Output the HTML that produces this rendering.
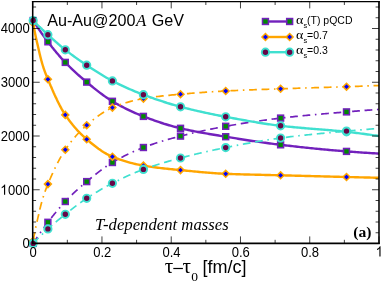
<!DOCTYPE html>
<html><head><meta charset="utf-8"><title>plot</title>
<style>
html,body{margin:0;padding:0;background:#fff;}
body{width:382px;height:282px;overflow:hidden;font-family:"Liberation Sans",sans-serif;}
svg{display:block;}
text{font-family:"Liberation Sans",sans-serif;fill:#000;}
.ser{font-family:"Liberation Serif",serif;}
</style></head><body>
<div style="will-change:transform;width:382px;height:282px;">
<svg width="382" height="282" viewBox="0 0 382 282">

<defs><clipPath id="c"><rect x="32.7" y="1.6" width="346.3" height="241.6"/></clipPath></defs>
<path d="M33.15,20.55 L33.38,20.90 L33.60,21.25 L33.83,21.60 L34.05,21.95 L34.28,22.30 L34.50,22.65 L34.73,22.99 L34.96,23.34 L35.18,23.69 L35.41,24.03 L35.63,24.38 L35.86,24.72 L36.08,25.06 L36.31,25.40 L36.53,25.74 L36.76,26.09 L36.99,26.42 L37.21,26.76 L37.44,27.10 L37.66,27.44 L37.89,27.78 L38.11,28.11 L38.34,28.45 L38.57,28.78 L38.79,29.11 L39.02,29.45 L39.24,29.78 L39.47,30.11 L39.69,30.44 L39.92,30.77 L40.14,31.09 L40.37,31.42 L40.60,31.75 L40.82,32.07 L41.05,32.40 L41.27,32.72 L41.50,33.04 L41.72,33.37 L41.95,33.69 L42.18,34.01 L42.40,34.33 L42.63,34.64 L42.85,34.96 L43.08,35.28 L43.30,35.59 L43.53,35.91 L43.75,36.22 L43.98,36.53 L44.21,36.84 L44.43,37.16 L44.66,37.46 L44.88,37.77 L45.11,38.08 L45.33,38.39 L45.56,38.69 L45.79,39.00 L46.01,39.30 L46.24,39.60 L46.46,39.90 L46.69,40.20 L46.91,40.50 L47.14,40.80 L47.36,41.10 L47.59,41.40 L47.82,41.69 L48.04,41.98 L48.27,42.28 L48.49,42.57 L48.72,42.86 L48.94,43.15 L49.17,43.45 L49.40,43.74 L49.62,44.03 L49.85,44.32 L50.07,44.60 L50.30,44.89 L50.52,45.18 L50.75,45.47 L50.97,45.75 L51.20,46.04 L51.43,46.32 L51.65,46.61 L51.88,46.89 L52.10,47.18 L52.33,47.46 L52.55,47.74 L52.78,48.02 L53.01,48.30 L53.23,48.58 L53.46,48.86 L53.68,49.14 L53.91,49.42 L54.13,49.69 L54.36,49.97 L54.58,50.24 L54.81,50.52 L55.04,50.79 L55.26,51.07 L55.49,51.34 L55.71,51.61 L55.94,51.88 L56.16,52.15 L56.39,52.42 L56.62,52.69 L56.84,52.96 L57.07,53.23 L57.29,53.49 L57.52,53.76 L57.74,54.02 L57.97,54.29 L58.19,54.55 L58.42,54.81 L58.65,55.07 L58.87,55.34 L59.10,55.60 L59.32,55.85 L59.55,56.11 L59.77,56.37 L60.00,56.63 L61.60,58.43 L63.21,60.18 L64.81,61.89 L66.41,63.55 L68.02,65.18 L69.62,66.77 L71.22,68.33 L72.82,69.86 L74.43,71.37 L76.03,72.85 L77.63,74.30 L79.24,75.73 L80.84,77.13 L82.44,78.52 L84.05,79.88 L85.65,81.23 L87.25,82.56 L88.85,83.88 L90.46,85.20 L92.06,86.51 L93.66,87.81 L95.27,89.10 L96.87,90.37 L98.47,91.62 L100.08,92.85 L101.68,94.06 L103.28,95.24 L104.88,96.39 L106.49,97.50 L108.09,98.59 L109.69,99.63 L111.30,100.63 L112.90,101.60 L114.50,102.53 L116.11,103.45 L117.71,104.35 L119.31,105.23 L120.91,106.09 L122.52,106.93 L124.12,107.76 L125.72,108.57 L127.33,109.36 L128.93,110.14 L130.53,110.90 L132.14,111.64 L133.74,112.36 L135.34,113.07 L136.94,113.77 L138.55,114.44 L140.15,115.10 L141.75,115.75 L143.36,116.38 L144.96,117.00 L146.56,117.62 L148.17,118.22 L149.77,118.82 L151.37,119.41 L152.97,119.98 L154.58,120.55 L156.18,121.12 L157.78,121.67 L159.39,122.21 L160.99,122.74 L162.59,123.26 L164.20,123.77 L165.80,124.27 L167.40,124.76 L169.01,125.24 L170.61,125.70 L172.21,126.16 L173.81,126.60 L175.42,127.03 L177.02,127.44 L178.62,127.85 L180.23,128.23 L181.83,128.61 L183.43,128.98 L185.04,129.34 L186.64,129.69 L188.24,130.04 L189.84,130.37 L191.45,130.70 L193.05,131.02 L194.65,131.34 L196.26,131.65 L197.86,131.95 L199.46,132.25 L201.07,132.54 L202.67,132.83 L204.27,133.12 L205.87,133.40 L207.48,133.67 L209.08,133.95 L210.68,134.22 L212.29,134.49 L213.89,134.76 L215.49,135.02 L217.10,135.29 L218.70,135.55 L220.30,135.81 L221.90,136.08 L223.51,136.34 L225.11,136.60 L226.71,136.87 L228.32,137.13 L229.92,137.39 L231.52,137.66 L233.13,137.92 L234.73,138.18 L236.33,138.44 L237.93,138.69 L239.54,138.95 L241.14,139.20 L242.74,139.46 L244.35,139.71 L245.95,139.96 L247.55,140.21 L249.16,140.45 L250.76,140.70 L252.36,140.94 L253.96,141.18 L255.57,141.42 L257.17,141.66 L258.77,141.89 L260.38,142.12 L261.98,142.35 L263.58,142.58 L265.19,142.80 L266.79,143.02 L268.39,143.24 L269.99,143.45 L271.60,143.67 L273.20,143.88 L274.80,144.08 L276.41,144.29 L278.01,144.48 L279.61,144.68 L281.22,144.87 L282.82,145.06 L284.42,145.25 L286.03,145.44 L287.63,145.63 L289.23,145.81 L290.83,146.00 L292.44,146.18 L294.04,146.36 L295.64,146.54 L297.25,146.72 L298.85,146.89 L300.45,147.07 L302.06,147.24 L303.66,147.41 L305.26,147.58 L306.86,147.75 L308.47,147.92 L310.07,148.08 L311.67,148.25 L313.28,148.41 L314.88,148.57 L316.48,148.73 L318.09,148.89 L319.69,149.04 L321.29,149.20 L322.89,149.35 L324.50,149.50 L326.10,149.65 L327.70,149.80 L329.31,149.94 L330.91,150.09 L332.51,150.23 L334.12,150.37 L335.72,150.51 L337.32,150.65 L338.92,150.78 L340.53,150.92 L342.13,151.05 L343.73,151.18 L345.34,151.31 L346.94,151.43 L348.54,151.56 L350.15,151.68 L351.75,151.80 L353.35,151.92 L354.95,152.04 L356.56,152.16 L358.16,152.27 L359.76,152.38 L361.37,152.50 L362.97,152.60 L364.57,152.71 L366.18,152.82 L367.78,152.92 L369.38,153.02 L370.98,153.12 L372.59,153.22 L374.19,153.32 L375.79,153.41 L377.40,153.51 L379.00,153.60" fill="none" stroke="#7221bc" stroke-width="2.4" clip-path="url(#c)"/>
<rect x="30.22" y="17.62" width="5.85" height="5.85" fill="#008b00" stroke="#7221bc" stroke-width="1.55"/>
<rect x="44.97" y="38.87" width="5.85" height="5.85" fill="#008b00" stroke="#7221bc" stroke-width="1.55"/>
<rect x="62.37" y="59.47" width="5.85" height="5.85" fill="#008b00" stroke="#7221bc" stroke-width="1.55"/>
<rect x="83.78" y="79.17" width="5.85" height="5.85" fill="#008b00" stroke="#7221bc" stroke-width="1.55"/>
<rect x="109.48" y="98.38" width="5.85" height="5.85" fill="#008b00" stroke="#7221bc" stroke-width="1.55"/>
<rect x="140.48" y="113.47" width="5.85" height="5.85" fill="#008b00" stroke="#7221bc" stroke-width="1.55"/>
<rect x="177.58" y="125.38" width="5.85" height="5.85" fill="#008b00" stroke="#7221bc" stroke-width="1.55"/>
<rect x="222.78" y="133.78" width="5.85" height="5.85" fill="#008b00" stroke="#7221bc" stroke-width="1.55"/>
<rect x="277.68" y="141.88" width="5.85" height="5.85" fill="#008b00" stroke="#7221bc" stroke-width="1.55"/>
<rect x="343.57" y="148.48" width="5.85" height="5.85" fill="#008b00" stroke="#7221bc" stroke-width="1.55"/>
<path d="M33.15,243.40 L33.38,243.05 L33.60,242.71 L33.83,242.36 L34.05,242.02 L34.28,241.67 L34.50,241.33 L34.73,240.99 L34.96,240.64 L35.18,240.30 L35.41,239.96 L35.63,239.62 L35.86,239.28 L36.08,238.94 L36.31,238.60 L36.53,238.27 L36.76,237.93 L36.99,237.59 L37.21,237.26 L37.44,236.92 L37.66,236.59 L37.89,236.26 L38.11,235.93 L38.34,235.59 L38.57,235.26 L38.79,234.93 L39.02,234.60 L39.24,234.27 L39.47,233.95 L39.69,233.62 L39.92,233.29 L40.14,232.97 L40.37,232.64 L40.60,232.32 L40.82,232.00 L41.05,231.67 L41.27,231.35 L41.50,231.03 L41.72,230.71 L41.95,230.39 L42.18,230.08 L42.40,229.76 L42.63,229.44 L42.85,229.13 L43.08,228.81 L43.30,228.50 L43.53,228.18 L43.75,227.87 L43.98,227.56 L44.21,227.25 L44.43,226.94 L44.66,226.63 L44.88,226.32 L45.11,226.02 L45.33,225.71 L45.56,225.41 L45.79,225.10 L46.01,224.80 L46.24,224.50 L46.46,224.20 L46.69,223.90 L46.91,223.60 L47.14,223.30 L47.36,223.00 L47.59,222.71 L47.82,222.41 L48.04,222.12 L48.27,221.82 L48.49,221.53 L48.72,221.23 L48.94,220.94 L49.17,220.65 L49.40,220.36 L49.62,220.07 L49.85,219.78 L50.07,219.49 L50.30,219.20 L50.52,218.91 L50.75,218.62 L50.97,218.33 L51.20,218.04 L51.43,217.76 L51.65,217.47 L51.88,217.18 L52.10,216.90 L52.33,216.61 L52.55,216.33 L52.78,216.05 L53.01,215.76 L53.23,215.48 L53.46,215.20 L53.68,214.92 L53.91,214.64 L54.13,214.36 L54.36,214.08 L54.58,213.80 L54.81,213.52 L55.04,213.25 L55.26,212.97 L55.49,212.69 L55.71,212.42 L55.94,212.14 L56.16,211.87 L56.39,211.60 L56.62,211.33 L56.84,211.06 L57.07,210.78 L57.29,210.52 L57.52,210.25 L57.74,209.98 L57.97,209.71 L58.19,209.44 L58.42,209.18 L58.65,208.91 L58.87,208.65 L59.10,208.39 L59.32,208.12 L59.55,207.86 L59.77,207.60 L60.00,207.34 L61.60,205.52 L63.21,203.74 L64.81,202.02 L66.41,200.34 L68.02,198.70 L69.62,197.08 L71.22,195.50 L72.82,193.95 L74.43,192.42 L76.03,190.93 L77.63,189.46 L79.24,188.02 L80.84,186.60 L82.44,185.20 L84.05,183.83 L85.65,182.48 L87.25,181.14 L88.85,179.82 L90.46,178.50 L92.06,177.19 L93.66,175.90 L95.27,174.62 L96.87,173.35 L98.47,172.11 L100.08,170.88 L101.68,169.69 L103.28,168.52 L104.88,167.38 L106.49,166.27 L108.09,165.19 L109.69,164.16 L111.30,163.16 L112.90,162.21 L114.50,161.27 L116.11,160.36 L117.71,159.46 L119.31,158.59 L120.91,157.73 L122.52,156.88 L124.12,156.06 L125.72,155.25 L127.33,154.46 L128.93,153.69 L130.53,152.93 L132.14,152.19 L133.74,151.47 L135.34,150.77 L136.94,150.08 L138.55,149.42 L140.15,148.77 L141.75,148.13 L143.36,147.52 L144.96,146.92 L146.56,146.33 L148.17,145.75 L149.77,145.19 L151.37,144.63 L152.97,144.09 L154.58,143.56 L156.18,143.03 L157.78,142.52 L159.39,142.02 L160.99,141.52 L162.59,141.04 L164.20,140.56 L165.80,140.09 L167.40,139.63 L169.01,139.17 L170.61,138.73 L172.21,138.29 L173.81,137.85 L175.42,137.42 L177.02,137.00 L178.62,136.58 L180.23,136.17 L181.83,135.76 L183.43,135.36 L185.04,134.96 L186.64,134.56 L188.24,134.17 L189.84,133.79 L191.45,133.40 L193.05,133.03 L194.65,132.65 L196.26,132.28 L197.86,131.92 L199.46,131.56 L201.07,131.21 L202.67,130.85 L204.27,130.51 L205.87,130.17 L207.48,129.83 L209.08,129.49 L210.68,129.17 L212.29,128.84 L213.89,128.52 L215.49,128.21 L217.10,127.89 L218.70,127.59 L220.30,127.29 L221.90,126.99 L223.51,126.69 L225.11,126.41 L226.71,126.12 L228.32,125.84 L229.92,125.56 L231.52,125.28 L233.13,125.00 L234.73,124.73 L236.33,124.46 L237.93,124.19 L239.54,123.93 L241.14,123.66 L242.74,123.40 L244.35,123.14 L245.95,122.89 L247.55,122.64 L249.16,122.39 L250.76,122.14 L252.36,121.90 L253.96,121.65 L255.57,121.42 L257.17,121.18 L258.77,120.95 L260.38,120.72 L261.98,120.49 L263.58,120.27 L265.19,120.05 L266.79,119.83 L268.39,119.62 L269.99,119.41 L271.60,119.20 L273.20,119.00 L274.80,118.80 L276.41,118.60 L278.01,118.41 L279.61,118.22 L281.22,118.03 L282.82,117.84 L284.42,117.66 L286.03,117.48 L287.63,117.31 L289.23,117.13 L290.83,116.96 L292.44,116.79 L294.04,116.62 L295.64,116.46 L297.25,116.30 L298.85,116.13 L300.45,115.97 L302.06,115.82 L303.66,115.66 L305.26,115.51 L306.86,115.35 L308.47,115.20 L310.07,115.05 L311.67,114.90 L313.28,114.76 L314.88,114.61 L316.48,114.47 L318.09,114.32 L319.69,114.18 L321.29,114.04 L322.89,113.90 L324.50,113.76 L326.10,113.62 L327.70,113.48 L329.31,113.35 L330.91,113.21 L332.51,113.07 L334.12,112.94 L335.72,112.80 L337.32,112.67 L338.92,112.53 L340.53,112.40 L342.13,112.27 L343.73,112.13 L345.34,112.00 L346.94,111.86 L348.54,111.73 L350.15,111.60 L351.75,111.47 L353.35,111.34 L354.95,111.21 L356.56,111.08 L358.16,110.96 L359.76,110.83 L361.37,110.71 L362.97,110.58 L364.57,110.46 L366.18,110.34 L367.78,110.22 L369.38,110.10 L370.98,109.98 L372.59,109.86 L374.19,109.75 L375.79,109.63 L377.40,109.51 L379.00,109.40" fill="none" stroke="#7221bc" stroke-width="1.7" stroke-dasharray="7.78 4.67 1.56 4.67 7.78 4.67" stroke-dashoffset="0" clip-path="url(#c)"/>
<rect x="30.22" y="240.48" width="5.85" height="5.85" fill="#008b00" stroke="#7221bc" stroke-width="1.55"/>
<rect x="44.97" y="219.38" width="5.85" height="5.85" fill="#008b00" stroke="#7221bc" stroke-width="1.55"/>
<rect x="62.37" y="198.58" width="5.85" height="5.85" fill="#008b00" stroke="#7221bc" stroke-width="1.55"/>
<rect x="83.78" y="178.68" width="5.85" height="5.85" fill="#008b00" stroke="#7221bc" stroke-width="1.55"/>
<rect x="109.48" y="159.58" width="5.85" height="5.85" fill="#008b00" stroke="#7221bc" stroke-width="1.55"/>
<rect x="140.48" y="144.58" width="5.85" height="5.85" fill="#008b00" stroke="#7221bc" stroke-width="1.55"/>
<rect x="177.58" y="133.18" width="5.85" height="5.85" fill="#008b00" stroke="#7221bc" stroke-width="1.55"/>
<rect x="222.78" y="123.38" width="5.85" height="5.85" fill="#008b00" stroke="#7221bc" stroke-width="1.55"/>
<rect x="277.68" y="115.17" width="5.85" height="5.85" fill="#008b00" stroke="#7221bc" stroke-width="1.55"/>
<rect x="343.57" y="108.97" width="5.85" height="5.85" fill="#008b00" stroke="#7221bc" stroke-width="1.55"/>

<path d="M33.15,22.90 L33.38,24.21 L33.60,25.50 L33.83,26.76 L34.05,28.01 L34.28,29.23 L34.50,30.44 L34.73,31.62 L34.96,32.78 L35.18,33.92 L35.41,35.05 L35.63,36.14 L35.86,37.22 L36.08,38.27 L36.31,39.28 L36.53,40.27 L36.76,41.24 L36.99,42.20 L37.21,43.15 L37.44,44.10 L37.66,45.06 L37.89,46.03 L38.11,47.02 L38.34,48.01 L38.57,49.01 L38.79,50.00 L39.02,51.00 L39.24,51.99 L39.47,52.97 L39.69,53.94 L39.92,54.90 L40.14,55.83 L40.37,56.75 L40.60,57.63 L40.82,58.50 L41.05,59.36 L41.27,60.21 L41.50,61.05 L41.72,61.88 L41.95,62.69 L42.18,63.48 L42.40,64.26 L42.63,65.02 L42.85,65.75 L43.08,66.47 L43.30,67.17 L43.53,67.85 L43.75,68.52 L43.98,69.18 L44.21,69.83 L44.43,70.46 L44.66,71.09 L44.88,71.71 L45.11,72.32 L45.33,72.92 L45.56,73.51 L45.79,74.10 L46.01,74.68 L46.24,75.25 L46.46,75.82 L46.69,76.38 L46.91,76.93 L47.14,77.48 L47.36,78.02 L47.59,78.56 L47.82,79.10 L48.04,79.64 L48.27,80.17 L48.49,80.70 L48.72,81.23 L48.94,81.77 L49.17,82.30 L49.40,82.83 L49.62,83.36 L49.85,83.89 L50.07,84.41 L50.30,84.94 L50.52,85.47 L50.75,85.99 L50.97,86.51 L51.20,87.04 L51.43,87.56 L51.65,88.08 L51.88,88.60 L52.10,89.11 L52.33,89.63 L52.55,90.14 L52.78,90.65 L53.01,91.16 L53.23,91.67 L53.46,92.18 L53.68,92.69 L53.91,93.19 L54.13,93.69 L54.36,94.19 L54.58,94.69 L54.81,95.18 L55.04,95.68 L55.26,96.17 L55.49,96.66 L55.71,97.14 L55.94,97.63 L56.16,98.11 L56.39,98.59 L56.62,99.06 L56.84,99.54 L57.07,100.01 L57.29,100.48 L57.52,100.94 L57.74,101.41 L57.97,101.87 L58.19,102.33 L58.42,102.78 L58.65,103.23 L58.87,103.68 L59.10,104.12 L59.32,104.57 L59.55,105.00 L59.77,105.44 L60.00,105.87 L61.60,108.84 L63.21,111.61 L64.81,114.16 L66.41,116.52 L68.02,118.78 L69.62,120.95 L71.22,123.04 L72.82,125.04 L74.43,126.96 L76.03,128.80 L77.63,130.57 L79.24,132.26 L80.84,133.89 L82.44,135.45 L84.05,136.95 L85.65,138.39 L87.25,139.77 L88.85,141.13 L90.46,142.46 L92.06,143.77 L93.66,145.05 L95.27,146.29 L96.87,147.50 L98.47,148.68 L100.08,149.80 L101.68,150.89 L103.28,151.92 L104.88,152.90 L106.49,153.83 L108.09,154.69 L109.69,155.50 L111.30,156.23 L112.90,156.90 L114.50,157.54 L116.11,158.16 L117.71,158.75 L119.31,159.33 L120.91,159.88 L122.52,160.42 L124.12,160.93 L125.72,161.42 L127.33,161.90 L128.93,162.35 L130.53,162.79 L132.14,163.20 L133.74,163.60 L135.34,163.98 L136.94,164.34 L138.55,164.68 L140.15,165.00 L141.75,165.31 L143.36,165.59 L144.96,165.86 L146.56,166.13 L148.17,166.38 L149.77,166.62 L151.37,166.85 L152.97,167.07 L154.58,167.29 L156.18,167.50 L157.78,167.70 L159.39,167.89 L160.99,168.08 L162.59,168.27 L164.20,168.45 L165.80,168.62 L167.40,168.79 L169.01,168.96 L170.61,169.12 L172.21,169.28 L173.81,169.44 L175.42,169.60 L177.02,169.76 L178.62,169.92 L180.23,170.07 L181.83,170.23 L183.43,170.39 L185.04,170.55 L186.64,170.71 L188.24,170.87 L189.84,171.02 L191.45,171.18 L193.05,171.34 L194.65,171.49 L196.26,171.64 L197.86,171.79 L199.46,171.94 L201.07,172.09 L202.67,172.23 L204.27,172.37 L205.87,172.51 L207.48,172.64 L209.08,172.77 L210.68,172.90 L212.29,173.02 L213.89,173.13 L215.49,173.24 L217.10,173.34 L218.70,173.44 L220.30,173.54 L221.90,173.62 L223.51,173.70 L225.11,173.77 L226.71,173.84 L228.32,173.91 L229.92,173.97 L231.52,174.03 L233.13,174.08 L234.73,174.14 L236.33,174.19 L237.93,174.24 L239.54,174.29 L241.14,174.34 L242.74,174.38 L244.35,174.43 L245.95,174.47 L247.55,174.51 L249.16,174.56 L250.76,174.60 L252.36,174.63 L253.96,174.67 L255.57,174.71 L257.17,174.75 L258.77,174.78 L260.38,174.82 L261.98,174.86 L263.58,174.89 L265.19,174.93 L266.79,174.97 L268.39,175.00 L269.99,175.04 L271.60,175.08 L273.20,175.11 L274.80,175.15 L276.41,175.19 L278.01,175.23 L279.61,175.27 L281.22,175.32 L282.82,175.36 L284.42,175.40 L286.03,175.44 L287.63,175.49 L289.23,175.53 L290.83,175.57 L292.44,175.61 L294.04,175.65 L295.64,175.70 L297.25,175.74 L298.85,175.78 L300.45,175.82 L302.06,175.86 L303.66,175.91 L305.26,175.95 L306.86,175.99 L308.47,176.03 L310.07,176.07 L311.67,176.11 L313.28,176.15 L314.88,176.20 L316.48,176.24 L318.09,176.28 L319.69,176.32 L321.29,176.36 L322.89,176.40 L324.50,176.44 L326.10,176.48 L327.70,176.52 L329.31,176.57 L330.91,176.61 L332.51,176.65 L334.12,176.69 L335.72,176.73 L337.32,176.77 L338.92,176.81 L340.53,176.85 L342.13,176.89 L343.73,176.93 L345.34,176.97 L346.94,177.01 L348.54,177.05 L350.15,177.09 L351.75,177.13 L353.35,177.17 L354.95,177.21 L356.56,177.25 L358.16,177.29 L359.76,177.33 L361.37,177.37 L362.97,177.41 L364.57,177.45 L366.18,177.49 L367.78,177.53 L369.38,177.57 L370.98,177.61 L372.59,177.64 L374.19,177.68 L375.79,177.72 L377.40,177.76 L379.00,177.80" fill="none" stroke="#ffa500" stroke-width="2.4" clip-path="url(#c)"/>
<path d="M29.70,22.90 L33.15,19.45 L36.60,22.90 L33.15,26.35 Z" fill="#0000ff" stroke="#ffa500" stroke-width="1.55"/>
<path d="M44.45,79.30 L47.90,75.85 L51.35,79.30 L47.90,82.75 Z" fill="#0000ff" stroke="#ffa500" stroke-width="1.55"/>
<path d="M61.85,114.90 L65.30,111.45 L68.75,114.90 L65.30,118.35 Z" fill="#0000ff" stroke="#ffa500" stroke-width="1.55"/>
<path d="M83.25,139.30 L86.70,135.85 L90.15,139.30 L86.70,142.75 Z" fill="#0000ff" stroke="#ffa500" stroke-width="1.55"/>
<path d="M108.95,156.70 L112.40,153.25 L115.85,156.70 L112.40,160.15 Z" fill="#0000ff" stroke="#ffa500" stroke-width="1.55"/>
<path d="M139.95,165.60 L143.40,162.15 L146.85,165.60 L143.40,169.05 Z" fill="#0000ff" stroke="#ffa500" stroke-width="1.55"/>
<path d="M177.05,170.10 L180.50,166.65 L183.95,170.10 L180.50,173.55 Z" fill="#0000ff" stroke="#ffa500" stroke-width="1.55"/>
<path d="M222.25,173.80 L225.70,170.35 L229.15,173.80 L225.70,177.25 Z" fill="#0000ff" stroke="#ffa500" stroke-width="1.55"/>
<path d="M277.15,175.30 L280.60,171.85 L284.05,175.30 L280.60,178.75 Z" fill="#0000ff" stroke="#ffa500" stroke-width="1.55"/>
<path d="M343.05,177.00 L346.50,173.55 L349.95,177.00 L346.50,180.45 Z" fill="#0000ff" stroke="#ffa500" stroke-width="1.55"/>
<path d="M33.15,241.05 L33.38,239.74 L33.60,238.45 L33.83,237.19 L34.05,235.94 L34.28,234.72 L34.50,233.51 L34.73,232.33 L34.96,231.17 L35.18,230.03 L35.41,228.90 L35.63,227.81 L35.86,226.73 L36.08,225.68 L36.31,224.67 L36.53,223.68 L36.76,222.71 L36.99,221.75 L37.21,220.80 L37.44,219.85 L37.66,218.89 L37.89,217.92 L38.11,216.93 L38.34,215.94 L38.57,214.94 L38.79,213.95 L39.02,212.95 L39.24,211.96 L39.47,210.98 L39.69,210.01 L39.92,209.05 L40.14,208.12 L40.37,207.20 L40.60,206.32 L40.82,205.45 L41.05,204.59 L41.27,203.75 L41.50,202.91 L41.72,202.09 L41.95,201.29 L42.18,200.50 L42.40,199.72 L42.63,198.96 L42.85,198.21 L43.08,197.49 L43.30,196.78 L43.53,196.07 L43.75,195.38 L43.98,194.70 L44.21,194.02 L44.43,193.35 L44.66,192.69 L44.88,192.04 L45.11,191.39 L45.33,190.76 L45.56,190.13 L45.79,189.51 L46.01,188.89 L46.24,188.29 L46.46,187.70 L46.69,187.11 L46.91,186.53 L47.14,185.96 L47.36,185.40 L47.59,184.85 L47.82,184.30 L48.04,183.76 L48.27,183.23 L48.49,182.69 L48.72,182.16 L48.94,181.63 L49.17,181.10 L49.40,180.58 L49.62,180.05 L49.85,179.53 L50.07,179.01 L50.30,178.49 L50.52,177.97 L50.75,177.46 L50.97,176.95 L51.20,176.44 L51.43,175.93 L51.65,175.42 L51.88,174.92 L52.10,174.42 L52.33,173.92 L52.55,173.42 L52.78,172.92 L53.01,172.43 L53.23,171.94 L53.46,171.45 L53.68,170.97 L53.91,170.48 L54.13,170.00 L54.36,169.52 L54.58,169.05 L54.81,168.57 L55.04,168.10 L55.26,167.63 L55.49,167.16 L55.71,166.70 L55.94,166.24 L56.16,165.78 L56.39,165.32 L56.62,164.87 L56.84,164.42 L57.07,163.97 L57.29,163.53 L57.52,163.09 L57.74,162.65 L57.97,162.21 L58.19,161.77 L58.42,161.34 L58.65,160.92 L58.87,160.49 L59.10,160.07 L59.32,159.65 L59.55,159.23 L59.77,158.82 L60.00,158.41 L61.60,155.58 L63.21,152.92 L64.81,150.43 L66.41,148.09 L68.02,145.85 L69.62,143.68 L71.22,141.60 L72.82,139.60 L74.43,137.67 L76.03,135.81 L77.63,134.03 L79.24,132.31 L80.84,130.67 L82.44,129.09 L84.05,127.57 L85.65,126.12 L87.25,124.72 L88.85,123.36 L90.46,122.01 L92.06,120.69 L93.66,119.40 L95.27,118.14 L96.87,116.91 L98.47,115.73 L100.08,114.58 L101.68,113.49 L103.28,112.44 L104.88,111.45 L106.49,110.51 L108.09,109.63 L109.69,108.82 L111.30,108.07 L112.90,107.39 L114.50,106.75 L116.11,106.13 L117.71,105.52 L119.31,104.94 L120.91,104.38 L122.52,103.83 L124.12,103.31 L125.72,102.81 L127.33,102.33 L128.93,101.87 L130.53,101.43 L132.14,101.00 L133.74,100.60 L135.34,100.22 L136.94,99.86 L138.55,99.52 L140.15,99.19 L141.75,98.89 L143.36,98.61 L144.96,98.34 L146.56,98.08 L148.17,97.83 L149.77,97.59 L151.37,97.36 L152.97,97.14 L154.58,96.92 L156.18,96.71 L157.78,96.51 L159.39,96.32 L160.99,96.13 L162.59,95.95 L164.20,95.78 L165.80,95.60 L167.40,95.44 L169.01,95.28 L170.61,95.12 L172.21,94.96 L173.81,94.81 L175.42,94.66 L177.02,94.51 L178.62,94.37 L180.23,94.22 L181.83,94.08 L183.43,93.94 L185.04,93.80 L186.64,93.67 L188.24,93.53 L189.84,93.40 L191.45,93.27 L193.05,93.14 L194.65,93.02 L196.26,92.89 L197.86,92.77 L199.46,92.65 L201.07,92.53 L202.67,92.42 L204.27,92.30 L205.87,92.19 L207.48,92.08 L209.08,91.98 L210.68,91.87 L212.29,91.77 L213.89,91.67 L215.49,91.57 L217.10,91.48 L218.70,91.38 L220.30,91.29 L221.90,91.20 L223.51,91.12 L225.11,91.03 L226.71,90.95 L228.32,90.87 L229.92,90.79 L231.52,90.71 L233.13,90.63 L234.73,90.56 L236.33,90.49 L237.93,90.41 L239.54,90.34 L241.14,90.28 L242.74,90.21 L244.35,90.14 L245.95,90.07 L247.55,90.01 L249.16,89.95 L250.76,89.88 L252.36,89.82 L253.96,89.76 L255.57,89.70 L257.17,89.64 L258.77,89.58 L260.38,89.52 L261.98,89.46 L263.58,89.40 L265.19,89.35 L266.79,89.29 L268.39,89.23 L269.99,89.18 L271.60,89.12 L273.20,89.06 L274.80,89.01 L276.41,88.95 L278.01,88.89 L279.61,88.84 L281.22,88.78 L282.82,88.72 L284.42,88.67 L286.03,88.61 L287.63,88.56 L289.23,88.50 L290.83,88.45 L292.44,88.40 L294.04,88.35 L295.64,88.29 L297.25,88.24 L298.85,88.19 L300.45,88.14 L302.06,88.09 L303.66,88.04 L305.26,87.99 L306.86,87.94 L308.47,87.89 L310.07,87.85 L311.67,87.80 L313.28,87.75 L314.88,87.70 L316.48,87.65 L318.09,87.60 L319.69,87.55 L321.29,87.51 L322.89,87.46 L324.50,87.41 L326.10,87.36 L327.70,87.31 L329.31,87.26 L330.91,87.21 L332.51,87.16 L334.12,87.11 L335.72,87.06 L337.32,87.01 L338.92,86.95 L340.53,86.90 L342.13,86.85 L343.73,86.79 L345.34,86.74 L346.94,86.68 L348.54,86.63 L350.15,86.57 L351.75,86.52 L353.35,86.46 L354.95,86.40 L356.56,86.34 L358.16,86.29 L359.76,86.23 L361.37,86.17 L362.97,86.11 L364.57,86.05 L366.18,85.99 L367.78,85.93 L369.38,85.87 L370.98,85.81 L372.59,85.75 L374.19,85.68 L375.79,85.62 L377.40,85.56 L379.00,85.50" fill="none" stroke="#ffa500" stroke-width="1.7" stroke-dasharray="7.78 4.67 1.56 4.67 7.78 4.67" stroke-dashoffset="30.1" clip-path="url(#c)"/>
<path d="M29.70,241.05 L33.15,237.60 L36.60,241.05 L33.15,244.50 Z" fill="#0000ff" stroke="#ffa500" stroke-width="1.55"/>
<path d="M44.45,184.10 L47.90,180.65 L51.35,184.10 L47.90,187.55 Z" fill="#0000ff" stroke="#ffa500" stroke-width="1.55"/>
<path d="M61.85,149.70 L65.30,146.25 L68.75,149.70 L65.30,153.15 Z" fill="#0000ff" stroke="#ffa500" stroke-width="1.55"/>
<path d="M83.25,125.20 L86.70,121.75 L90.15,125.20 L86.70,128.65 Z" fill="#0000ff" stroke="#ffa500" stroke-width="1.55"/>
<path d="M108.95,107.60 L112.40,104.15 L115.85,107.60 L112.40,111.05 Z" fill="#0000ff" stroke="#ffa500" stroke-width="1.55"/>
<path d="M139.95,98.60 L143.40,95.15 L146.85,98.60 L143.40,102.05 Z" fill="#0000ff" stroke="#ffa500" stroke-width="1.55"/>
<path d="M177.05,94.20 L180.50,90.75 L183.95,94.20 L180.50,97.65 Z" fill="#0000ff" stroke="#ffa500" stroke-width="1.55"/>
<path d="M222.25,91.00 L225.70,87.55 L229.15,91.00 L225.70,94.45 Z" fill="#0000ff" stroke="#ffa500" stroke-width="1.55"/>
<path d="M277.15,88.80 L280.60,85.35 L284.05,88.80 L280.60,92.25 Z" fill="#0000ff" stroke="#ffa500" stroke-width="1.55"/>
<path d="M343.05,86.70 L346.50,83.25 L349.95,86.70 L346.50,90.15 Z" fill="#0000ff" stroke="#ffa500" stroke-width="1.55"/>

<path d="M33.15,20.55 L33.38,20.78 L33.60,21.00 L33.83,21.23 L34.05,21.45 L34.28,21.68 L34.50,21.90 L34.73,22.13 L34.96,22.35 L35.18,22.57 L35.41,22.80 L35.63,23.02 L35.86,23.24 L36.08,23.46 L36.31,23.69 L36.53,23.91 L36.76,24.13 L36.99,24.35 L37.21,24.57 L37.44,24.79 L37.66,25.02 L37.89,25.24 L38.11,25.46 L38.34,25.68 L38.57,25.89 L38.79,26.11 L39.02,26.33 L39.24,26.55 L39.47,26.77 L39.69,26.99 L39.92,27.21 L40.14,27.42 L40.37,27.64 L40.60,27.86 L40.82,28.07 L41.05,28.29 L41.27,28.51 L41.50,28.72 L41.72,28.94 L41.95,29.15 L42.18,29.37 L42.40,29.58 L42.63,29.79 L42.85,30.01 L43.08,30.22 L43.30,30.43 L43.53,30.65 L43.75,30.86 L43.98,31.07 L44.21,31.28 L44.43,31.49 L44.66,31.70 L44.88,31.92 L45.11,32.13 L45.33,32.34 L45.56,32.55 L45.79,32.75 L46.01,32.96 L46.24,33.17 L46.46,33.38 L46.69,33.59 L46.91,33.80 L47.14,34.00 L47.36,34.21 L47.59,34.42 L47.82,34.62 L48.04,34.83 L48.27,35.04 L48.49,35.24 L48.72,35.45 L48.94,35.65 L49.17,35.86 L49.40,36.06 L49.62,36.27 L49.85,36.47 L50.07,36.68 L50.30,36.88 L50.52,37.09 L50.75,37.29 L50.97,37.50 L51.20,37.70 L51.43,37.90 L51.65,38.11 L51.88,38.31 L52.10,38.52 L52.33,38.72 L52.55,38.92 L52.78,39.13 L53.01,39.33 L53.23,39.53 L53.46,39.73 L53.68,39.93 L53.91,40.14 L54.13,40.34 L54.36,40.54 L54.58,40.74 L54.81,40.94 L55.04,41.14 L55.26,41.34 L55.49,41.54 L55.71,41.74 L55.94,41.94 L56.16,42.14 L56.39,42.33 L56.62,42.53 L56.84,42.73 L57.07,42.93 L57.29,43.12 L57.52,43.32 L57.74,43.52 L57.97,43.71 L58.19,43.91 L58.42,44.10 L58.65,44.30 L58.87,44.49 L59.10,44.68 L59.32,44.88 L59.55,45.07 L59.77,45.26 L60.00,45.45 L61.60,46.80 L63.21,48.12 L64.81,49.41 L66.41,50.67 L68.02,51.92 L69.62,53.14 L71.22,54.34 L72.82,55.53 L74.43,56.71 L76.03,57.86 L77.63,59.00 L79.24,60.13 L80.84,61.24 L82.44,62.34 L84.05,63.43 L85.65,64.50 L87.25,65.57 L88.85,66.62 L90.46,67.68 L92.06,68.73 L93.66,69.77 L95.27,70.81 L96.87,71.83 L98.47,72.84 L100.08,73.84 L101.68,74.82 L103.28,75.79 L104.88,76.74 L106.49,77.67 L108.09,78.58 L109.69,79.46 L111.30,80.32 L112.90,81.16 L114.50,81.98 L116.11,82.78 L117.71,83.58 L119.31,84.36 L120.91,85.13 L122.52,85.89 L124.12,86.63 L125.72,87.36 L127.33,88.08 L128.93,88.79 L130.53,89.49 L132.14,90.18 L133.74,90.86 L135.34,91.52 L136.94,92.17 L138.55,92.82 L140.15,93.45 L141.75,94.07 L143.36,94.68 L144.96,95.29 L146.56,95.88 L148.17,96.48 L149.77,97.06 L151.37,97.64 L152.97,98.21 L154.58,98.77 L156.18,99.33 L157.78,99.88 L159.39,100.42 L160.99,100.96 L162.59,101.48 L164.20,102.00 L165.80,102.51 L167.40,103.02 L169.01,103.51 L170.61,104.00 L172.21,104.48 L173.81,104.94 L175.42,105.40 L177.02,105.85 L178.62,106.30 L180.23,106.73 L181.83,107.15 L183.43,107.57 L185.04,107.98 L186.64,108.38 L188.24,108.78 L189.84,109.18 L191.45,109.56 L193.05,109.95 L194.65,110.32 L196.26,110.70 L197.86,111.06 L199.46,111.42 L201.07,111.78 L202.67,112.14 L204.27,112.48 L205.87,112.83 L207.48,113.17 L209.08,113.51 L210.68,113.84 L212.29,114.17 L213.89,114.49 L215.49,114.82 L217.10,115.14 L218.70,115.45 L220.30,115.76 L221.90,116.08 L223.51,116.38 L225.11,116.69 L226.71,116.99 L228.32,117.29 L229.92,117.60 L231.52,117.90 L233.13,118.20 L234.73,118.50 L236.33,118.79 L237.93,119.09 L239.54,119.38 L241.14,119.68 L242.74,119.97 L244.35,120.25 L245.95,120.54 L247.55,120.82 L249.16,121.10 L250.76,121.38 L252.36,121.65 L253.96,121.93 L255.57,122.19 L257.17,122.46 L258.77,122.72 L260.38,122.97 L261.98,123.23 L263.58,123.47 L265.19,123.72 L266.79,123.96 L268.39,124.19 L269.99,124.42 L271.60,124.64 L273.20,124.86 L274.80,125.08 L276.41,125.28 L278.01,125.49 L279.61,125.68 L281.22,125.87 L282.82,126.06 L284.42,126.24 L286.03,126.41 L287.63,126.58 L289.23,126.74 L290.83,126.91 L292.44,127.06 L294.04,127.21 L295.64,127.36 L297.25,127.51 L298.85,127.65 L300.45,127.79 L302.06,127.93 L303.66,128.07 L305.26,128.20 L306.86,128.34 L308.47,128.47 L310.07,128.60 L311.67,128.73 L313.28,128.85 L314.88,128.98 L316.48,129.11 L318.09,129.24 L319.69,129.36 L321.29,129.49 L322.89,129.62 L324.50,129.75 L326.10,129.89 L327.70,130.02 L329.31,130.16 L330.91,130.29 L332.51,130.43 L334.12,130.58 L335.72,130.72 L337.32,130.87 L338.92,131.02 L340.53,131.18 L342.13,131.34 L343.73,131.51 L345.34,131.67 L346.94,131.85 L348.54,132.03 L350.15,132.21 L351.75,132.39 L353.35,132.58 L354.95,132.78 L356.56,132.98 L358.16,133.18 L359.76,133.38 L361.37,133.59 L362.97,133.80 L364.57,134.01 L366.18,134.22 L367.78,134.44 L369.38,134.66 L370.98,134.88 L372.59,135.10 L374.19,135.32 L375.79,135.55 L377.40,135.77 L379.00,136.00" fill="none" stroke="#40e0d0" stroke-width="2.4" clip-path="url(#c)"/>
<circle cx="33.15" cy="20.55" r="3.65" fill="#670748" stroke="#40e0d0" stroke-width="1.9"/>
<circle cx="47.90" cy="34.70" r="3.65" fill="#670748" stroke="#40e0d0" stroke-width="1.9"/>
<circle cx="65.30" cy="49.80" r="3.65" fill="#670748" stroke="#40e0d0" stroke-width="1.9"/>
<circle cx="86.70" cy="65.20" r="3.65" fill="#670748" stroke="#40e0d0" stroke-width="1.9"/>
<circle cx="112.40" cy="80.90" r="3.65" fill="#670748" stroke="#40e0d0" stroke-width="1.9"/>
<circle cx="143.40" cy="94.70" r="3.65" fill="#670748" stroke="#40e0d0" stroke-width="1.9"/>
<circle cx="180.50" cy="106.80" r="3.65" fill="#670748" stroke="#40e0d0" stroke-width="1.9"/>
<circle cx="225.70" cy="116.80" r="3.65" fill="#670748" stroke="#40e0d0" stroke-width="1.9"/>
<circle cx="280.60" cy="125.80" r="3.65" fill="#670748" stroke="#40e0d0" stroke-width="1.9"/>
<circle cx="346.50" cy="131.80" r="3.65" fill="#670748" stroke="#40e0d0" stroke-width="1.9"/>
<path d="M33.15,243.40 L33.38,243.16 L33.60,242.93 L33.83,242.69 L34.05,242.46 L34.28,242.22 L34.50,241.99 L34.73,241.75 L34.96,241.52 L35.18,241.29 L35.41,241.05 L35.63,240.82 L35.86,240.59 L36.08,240.36 L36.31,240.13 L36.53,239.89 L36.76,239.66 L36.99,239.43 L37.21,239.21 L37.44,238.98 L37.66,238.75 L37.89,238.52 L38.11,238.29 L38.34,238.06 L38.57,237.84 L38.79,237.61 L39.02,237.39 L39.24,237.16 L39.47,236.94 L39.69,236.71 L39.92,236.49 L40.14,236.26 L40.37,236.04 L40.60,235.82 L40.82,235.60 L41.05,235.38 L41.27,235.15 L41.50,234.93 L41.72,234.71 L41.95,234.49 L42.18,234.28 L42.40,234.06 L42.63,233.84 L42.85,233.62 L43.08,233.41 L43.30,233.19 L43.53,232.97 L43.75,232.76 L43.98,232.54 L44.21,232.33 L44.43,232.11 L44.66,231.90 L44.88,231.69 L45.11,231.48 L45.33,231.27 L45.56,231.05 L45.79,230.84 L46.01,230.63 L46.24,230.43 L46.46,230.22 L46.69,230.01 L46.91,229.80 L47.14,229.59 L47.36,229.39 L47.59,229.18 L47.82,228.98 L48.04,228.77 L48.27,228.57 L48.49,228.36 L48.72,228.16 L48.94,227.96 L49.17,227.76 L49.40,227.55 L49.62,227.35 L49.85,227.15 L50.07,226.95 L50.30,226.75 L50.52,226.55 L50.75,226.36 L50.97,226.16 L51.20,225.96 L51.43,225.76 L51.65,225.56 L51.88,225.37 L52.10,225.17 L52.33,224.98 L52.55,224.78 L52.78,224.59 L53.01,224.39 L53.23,224.20 L53.46,224.01 L53.68,223.81 L53.91,223.62 L54.13,223.43 L54.36,223.24 L54.58,223.04 L54.81,222.85 L55.04,222.66 L55.26,222.47 L55.49,222.28 L55.71,222.09 L55.94,221.90 L56.16,221.71 L56.39,221.53 L56.62,221.34 L56.84,221.15 L57.07,220.96 L57.29,220.77 L57.52,220.59 L57.74,220.40 L57.97,220.21 L58.19,220.03 L58.42,219.84 L58.65,219.66 L58.87,219.47 L59.10,219.29 L59.32,219.10 L59.55,218.92 L59.77,218.73 L60.00,218.55 L61.60,217.25 L63.21,215.97 L64.81,214.69 L66.41,213.42 L68.02,212.15 L69.62,210.89 L71.22,209.63 L72.82,208.38 L74.43,207.14 L76.03,205.92 L77.63,204.71 L79.24,203.52 L80.84,202.35 L82.44,201.21 L84.05,200.09 L85.65,199.00 L87.25,197.94 L88.85,196.90 L90.46,195.87 L92.06,194.86 L93.66,193.86 L95.27,192.88 L96.87,191.91 L98.47,190.95 L100.08,190.02 L101.68,189.09 L103.28,188.18 L104.88,187.29 L106.49,186.41 L108.09,185.55 L109.69,184.70 L111.30,183.87 L112.90,183.05 L114.50,182.24 L116.11,181.43 L117.71,180.64 L119.31,179.85 L120.91,179.07 L122.52,178.30 L124.12,177.54 L125.72,176.80 L127.33,176.06 L128.93,175.33 L130.53,174.62 L132.14,173.92 L133.74,173.23 L135.34,172.56 L136.94,171.90 L138.55,171.25 L140.15,170.63 L141.75,170.01 L143.36,169.42 L144.96,168.83 L146.56,168.26 L148.17,167.70 L149.77,167.14 L151.37,166.60 L152.97,166.07 L154.58,165.54 L156.18,165.02 L157.78,164.51 L159.39,164.01 L160.99,163.52 L162.59,163.03 L164.20,162.55 L165.80,162.08 L167.40,161.61 L169.01,161.15 L170.61,160.70 L172.21,160.25 L173.81,159.80 L175.42,159.36 L177.02,158.93 L178.62,158.50 L180.23,158.07 L181.83,157.65 L183.43,157.23 L185.04,156.82 L186.64,156.41 L188.24,156.00 L189.84,155.60 L191.45,155.20 L193.05,154.81 L194.65,154.42 L196.26,154.04 L197.86,153.65 L199.46,153.28 L201.07,152.90 L202.67,152.53 L204.27,152.17 L205.87,151.80 L207.48,151.44 L209.08,151.09 L210.68,150.74 L212.29,150.39 L213.89,150.04 L215.49,149.70 L217.10,149.36 L218.70,149.03 L220.30,148.69 L221.90,148.37 L223.51,148.04 L225.11,147.72 L226.71,147.40 L228.32,147.08 L229.92,146.76 L231.52,146.44 L233.13,146.13 L234.73,145.81 L236.33,145.50 L237.93,145.19 L239.54,144.88 L241.14,144.57 L242.74,144.26 L244.35,143.96 L245.95,143.66 L247.55,143.36 L249.16,143.06 L250.76,142.77 L252.36,142.48 L253.96,142.19 L255.57,141.91 L257.17,141.63 L258.77,141.35 L260.38,141.07 L261.98,140.80 L263.58,140.54 L265.19,140.28 L266.79,140.02 L268.39,139.77 L269.99,139.52 L271.60,139.27 L273.20,139.03 L274.80,138.80 L276.41,138.57 L278.01,138.35 L279.61,138.13 L281.22,137.92 L282.82,137.71 L284.42,137.50 L286.03,137.30 L287.63,137.10 L289.23,136.91 L290.83,136.71 L292.44,136.52 L294.04,136.33 L295.64,136.15 L297.25,135.96 L298.85,135.78 L300.45,135.60 L302.06,135.42 L303.66,135.25 L305.26,135.08 L306.86,134.91 L308.47,134.74 L310.07,134.57 L311.67,134.41 L313.28,134.24 L314.88,134.08 L316.48,133.92 L318.09,133.76 L319.69,133.61 L321.29,133.45 L322.89,133.29 L324.50,133.14 L326.10,132.99 L327.70,132.84 L329.31,132.69 L330.91,132.54 L332.51,132.39 L334.12,132.24 L335.72,132.09 L337.32,131.94 L338.92,131.79 L340.53,131.65 L342.13,131.50 L343.73,131.35 L345.34,131.21 L346.94,131.06 L348.54,130.91 L350.15,130.77 L351.75,130.63 L353.35,130.49 L354.95,130.35 L356.56,130.21 L358.16,130.07 L359.76,129.94 L361.37,129.80 L362.97,129.67 L364.57,129.54 L366.18,129.41 L367.78,129.28 L369.38,129.15 L370.98,129.02 L372.59,128.89 L374.19,128.77 L375.79,128.65 L377.40,128.52 L379.00,128.40" fill="none" stroke="#40e0d0" stroke-width="1.7" stroke-dasharray="7.78 4.67 1.56 4.67 7.78 4.67" stroke-dashoffset="0" clip-path="url(#c)"/>
<circle cx="33.15" cy="243.40" r="3.65" fill="#670748" stroke="#40e0d0" stroke-width="1.9"/>
<circle cx="47.90" cy="228.90" r="3.65" fill="#670748" stroke="#40e0d0" stroke-width="1.9"/>
<circle cx="65.30" cy="214.30" r="3.65" fill="#670748" stroke="#40e0d0" stroke-width="1.9"/>
<circle cx="86.70" cy="198.30" r="3.65" fill="#670748" stroke="#40e0d0" stroke-width="1.9"/>
<circle cx="112.40" cy="183.30" r="3.65" fill="#670748" stroke="#40e0d0" stroke-width="1.9"/>
<circle cx="143.40" cy="169.40" r="3.65" fill="#670748" stroke="#40e0d0" stroke-width="1.9"/>
<circle cx="180.50" cy="158.00" r="3.65" fill="#670748" stroke="#40e0d0" stroke-width="1.9"/>
<circle cx="225.70" cy="147.60" r="3.65" fill="#670748" stroke="#40e0d0" stroke-width="1.9"/>
<circle cx="280.60" cy="138.00" r="3.65" fill="#670748" stroke="#40e0d0" stroke-width="1.9"/>
<circle cx="346.50" cy="131.10" r="3.65" fill="#670748" stroke="#40e0d0" stroke-width="1.9"/>

<g stroke="#000" fill="none">
<line x1="32.7" y1="1.0" x2="32.7" y2="243.975" stroke-width="1.55"/>
<line x1="379.0" y1="1.0" x2="379.0" y2="243.975" stroke-width="1.55"/>
<line x1="31.925000000000004" y1="243.39999999999998" x2="379.775" y2="243.39999999999998" stroke-width="1.6"/>
<line x1="31.925000000000004" y1="1.6" x2="379.775" y2="1.6" stroke-width="1.2"/>
<line x1="32.70" y1="243.2" x2="32.70" y2="236.39999999999998" stroke-width="0.75"/>
<line x1="32.70" y1="1.6" x2="32.70" y2="8.4" stroke-width="0.75"/>
<line x1="67.33" y1="243.2" x2="67.33" y2="239.79999999999998" stroke-width="0.75"/>
<line x1="67.33" y1="1.6" x2="67.33" y2="5.0" stroke-width="0.75"/>
<line x1="101.96" y1="243.2" x2="101.96" y2="236.39999999999998" stroke-width="0.75"/>
<line x1="101.96" y1="1.6" x2="101.96" y2="8.4" stroke-width="0.75"/>
<line x1="136.59" y1="243.2" x2="136.59" y2="239.79999999999998" stroke-width="0.75"/>
<line x1="136.59" y1="1.6" x2="136.59" y2="5.0" stroke-width="0.75"/>
<line x1="171.22" y1="243.2" x2="171.22" y2="236.39999999999998" stroke-width="0.75"/>
<line x1="171.22" y1="1.6" x2="171.22" y2="8.4" stroke-width="0.75"/>
<line x1="205.85" y1="243.2" x2="205.85" y2="239.79999999999998" stroke-width="0.75"/>
<line x1="205.85" y1="1.6" x2="205.85" y2="5.0" stroke-width="0.75"/>
<line x1="240.48" y1="243.2" x2="240.48" y2="236.39999999999998" stroke-width="0.75"/>
<line x1="240.48" y1="1.6" x2="240.48" y2="8.4" stroke-width="0.75"/>
<line x1="275.11" y1="243.2" x2="275.11" y2="239.79999999999998" stroke-width="0.75"/>
<line x1="275.11" y1="1.6" x2="275.11" y2="5.0" stroke-width="0.75"/>
<line x1="309.74" y1="243.2" x2="309.74" y2="236.39999999999998" stroke-width="0.75"/>
<line x1="309.74" y1="1.6" x2="309.74" y2="8.4" stroke-width="0.75"/>
<line x1="344.37" y1="243.2" x2="344.37" y2="239.79999999999998" stroke-width="0.75"/>
<line x1="344.37" y1="1.6" x2="344.37" y2="5.0" stroke-width="0.75"/>
<line x1="379.00" y1="243.2" x2="379.00" y2="236.39999999999998" stroke-width="0.75"/>
<line x1="379.00" y1="1.6" x2="379.00" y2="8.4" stroke-width="0.75"/>
<line x1="32.7" y1="243.50" x2="39.7" y2="243.50" stroke-width="0.75"/>
<line x1="379.0" y1="243.50" x2="372.0" y2="243.50" stroke-width="0.75"/>
<line x1="32.7" y1="232.75" x2="36.1" y2="232.75" stroke-width="0.75"/>
<line x1="379.0" y1="232.75" x2="375.6" y2="232.75" stroke-width="0.75"/>
<line x1="32.7" y1="222.00" x2="36.1" y2="222.00" stroke-width="0.75"/>
<line x1="379.0" y1="222.00" x2="375.6" y2="222.00" stroke-width="0.75"/>
<line x1="32.7" y1="211.25" x2="36.1" y2="211.25" stroke-width="0.75"/>
<line x1="379.0" y1="211.25" x2="375.6" y2="211.25" stroke-width="0.75"/>
<line x1="32.7" y1="200.50" x2="36.1" y2="200.50" stroke-width="0.75"/>
<line x1="379.0" y1="200.50" x2="375.6" y2="200.50" stroke-width="0.75"/>
<line x1="32.7" y1="189.75" x2="39.7" y2="189.75" stroke-width="0.75"/>
<line x1="379.0" y1="189.75" x2="372.0" y2="189.75" stroke-width="0.75"/>
<line x1="32.7" y1="179.00" x2="36.1" y2="179.00" stroke-width="0.75"/>
<line x1="379.0" y1="179.00" x2="375.6" y2="179.00" stroke-width="0.75"/>
<line x1="32.7" y1="168.25" x2="36.1" y2="168.25" stroke-width="0.75"/>
<line x1="379.0" y1="168.25" x2="375.6" y2="168.25" stroke-width="0.75"/>
<line x1="32.7" y1="157.50" x2="36.1" y2="157.50" stroke-width="0.75"/>
<line x1="379.0" y1="157.50" x2="375.6" y2="157.50" stroke-width="0.75"/>
<line x1="32.7" y1="146.75" x2="36.1" y2="146.75" stroke-width="0.75"/>
<line x1="379.0" y1="146.75" x2="375.6" y2="146.75" stroke-width="0.75"/>
<line x1="32.7" y1="136.00" x2="39.7" y2="136.00" stroke-width="0.75"/>
<line x1="379.0" y1="136.00" x2="372.0" y2="136.00" stroke-width="0.75"/>
<line x1="32.7" y1="125.25" x2="36.1" y2="125.25" stroke-width="0.75"/>
<line x1="379.0" y1="125.25" x2="375.6" y2="125.25" stroke-width="0.75"/>
<line x1="32.7" y1="114.50" x2="36.1" y2="114.50" stroke-width="0.75"/>
<line x1="379.0" y1="114.50" x2="375.6" y2="114.50" stroke-width="0.75"/>
<line x1="32.7" y1="103.75" x2="36.1" y2="103.75" stroke-width="0.75"/>
<line x1="379.0" y1="103.75" x2="375.6" y2="103.75" stroke-width="0.75"/>
<line x1="32.7" y1="93.00" x2="36.1" y2="93.00" stroke-width="0.75"/>
<line x1="379.0" y1="93.00" x2="375.6" y2="93.00" stroke-width="0.75"/>
<line x1="32.7" y1="82.25" x2="39.7" y2="82.25" stroke-width="0.75"/>
<line x1="379.0" y1="82.25" x2="372.0" y2="82.25" stroke-width="0.75"/>
<line x1="32.7" y1="71.50" x2="36.1" y2="71.50" stroke-width="0.75"/>
<line x1="379.0" y1="71.50" x2="375.6" y2="71.50" stroke-width="0.75"/>
<line x1="32.7" y1="60.75" x2="36.1" y2="60.75" stroke-width="0.75"/>
<line x1="379.0" y1="60.75" x2="375.6" y2="60.75" stroke-width="0.75"/>
<line x1="32.7" y1="50.00" x2="36.1" y2="50.00" stroke-width="0.75"/>
<line x1="379.0" y1="50.00" x2="375.6" y2="50.00" stroke-width="0.75"/>
<line x1="32.7" y1="39.25" x2="36.1" y2="39.25" stroke-width="0.75"/>
<line x1="379.0" y1="39.25" x2="375.6" y2="39.25" stroke-width="0.75"/>
<line x1="32.7" y1="28.50" x2="39.7" y2="28.50" stroke-width="0.75"/>
<line x1="379.0" y1="28.50" x2="372.0" y2="28.50" stroke-width="0.75"/>
<line x1="32.7" y1="17.75" x2="36.1" y2="17.75" stroke-width="0.75"/>
<line x1="379.0" y1="17.75" x2="375.6" y2="17.75" stroke-width="0.75"/>
<line x1="32.7" y1="7.00" x2="36.1" y2="7.00" stroke-width="0.75"/>
<line x1="379.0" y1="7.00" x2="375.6" y2="7.00" stroke-width="0.75"/>
</g>
<g id="txt">
<text transform="translate(33.00,256.5) scale(0.92,1)" font-size="14.2" text-anchor="middle">0</text>
<text transform="translate(102.26,256.5) scale(0.92,1)" font-size="14.2" text-anchor="middle">0.2</text>
<text transform="translate(171.52,256.5) scale(0.92,1)" font-size="14.2" text-anchor="middle">0.4</text>
<text transform="translate(240.78,256.5) scale(0.92,1)" font-size="14.2" text-anchor="middle">0.6</text>
<text transform="translate(310.04,256.5) scale(0.92,1)" font-size="14.2" text-anchor="middle">0.8</text>
<path transform="translate(375.67,256.50) scale(0.006379,-0.006934)" d="M763 0H583V1147Q518 1085 412.5 1023Q307 961 223 930V1104Q374 1175 487 1276Q600 1377 647 1472H763Z" fill="#000"/>
<text transform="translate(29.8,248.40) scale(0.92,1)" font-size="14.2" text-anchor="end">0</text>
<path transform="translate(0.29,194.65) scale(0.006379,-0.006934)" d="M763 0H583V1147Q518 1085 412.5 1023Q307 961 223 930V1104Q374 1175 487 1276Q600 1377 647 1472H763Z" fill="#000"/>
<text transform="translate(29.8,194.65) scale(0.92,1)" font-size="14.2" text-anchor="end">000</text>
<text transform="translate(29.8,140.90) scale(0.92,1)" font-size="14.2" text-anchor="end">2000</text>
<text transform="translate(29.8,87.15) scale(0.92,1)" font-size="14.2" text-anchor="end">3000</text>
<text transform="translate(29.8,33.40) scale(0.92,1)" font-size="14.2" text-anchor="end">4000</text>
<text x="47.2" y="25.6" font-size="16.15">Au-Au@200<tspan class="ser" font-style="italic" font-size="16.8" dx="0.5">A</tspan><tspan dx="1"> GeV</tspan></text>
<text class="ser" x="95" y="230.0" font-size="16.7" font-style="italic">T-dependent masses</text>
<text class="ser" x="353.3" y="236.8" font-size="15.6" font-weight="bold">(a)</text>
<text class="ser" transform="translate(164.8,272.8) scale(1.06,1)" font-size="20">τ</text>
<rect x="173.3" y="267.9" width="9.6" height="1.2" fill="#000"/>
<text class="ser" transform="translate(182.6,272.8) scale(1.06,1)" font-size="20">τ</text>
<text class="ser" x="191.3" y="280.6" font-size="13.5">0</text>
<text x="202.6" y="272.8" font-size="18">[fm/c]</text>
</g>
<line x1="265.45" y1="21.5" x2="289.65" y2="21.5" stroke="#7221bc" stroke-width="2.4"/>
<rect x="262.52" y="18.57" width="5.85" height="5.85" fill="#008b00" stroke="#7221bc" stroke-width="1.55"/>
<rect x="286.72" y="18.57" width="5.85" height="5.85" fill="#008b00" stroke="#7221bc" stroke-width="1.55"/>
<text class="ser" transform="translate(296.0,23.9) scale(1.22,1)" font-size="11.5">α</text>
<text x="303.4" y="27.80" font-size="7.5">s</text>
<text transform="translate(307.0,23.9) scale(0.955,1)" font-size="11">(T) pQCD</text>
<line x1="265.45" y1="37.0" x2="289.65" y2="37.0" stroke="#ffa500" stroke-width="2.4"/>
<path d="M262.00,37.00 L265.45,33.55 L268.90,37.00 L265.45,40.45 Z" fill="#0000ff" stroke="#ffa500" stroke-width="1.55"/>
<path d="M286.20,37.00 L289.65,33.55 L293.10,37.00 L289.65,40.45 Z" fill="#0000ff" stroke="#ffa500" stroke-width="1.55"/>
<text class="ser" transform="translate(296.0,39.0) scale(1.22,1)" font-size="11.5">α</text>
<text x="303.4" y="42.90" font-size="7.5">s</text>
<text transform="translate(307.0,39.0) scale(0.955,1)" font-size="11">=0.7</text>
<line x1="265.45" y1="52.2" x2="289.65" y2="52.2" stroke="#40e0d0" stroke-width="2.4"/>
<circle cx="265.45" cy="52.20" r="3.65" fill="#670748" stroke="#40e0d0" stroke-width="1.9"/>
<circle cx="289.65" cy="52.20" r="3.65" fill="#670748" stroke="#40e0d0" stroke-width="1.9"/>
<text class="ser" transform="translate(296.0,54.2) scale(1.22,1)" font-size="11.5">α</text>
<text x="303.4" y="58.10" font-size="7.5">s</text>
<text transform="translate(307.0,54.2) scale(0.955,1)" font-size="11">=0.3</text>
</svg></div></body></html>
